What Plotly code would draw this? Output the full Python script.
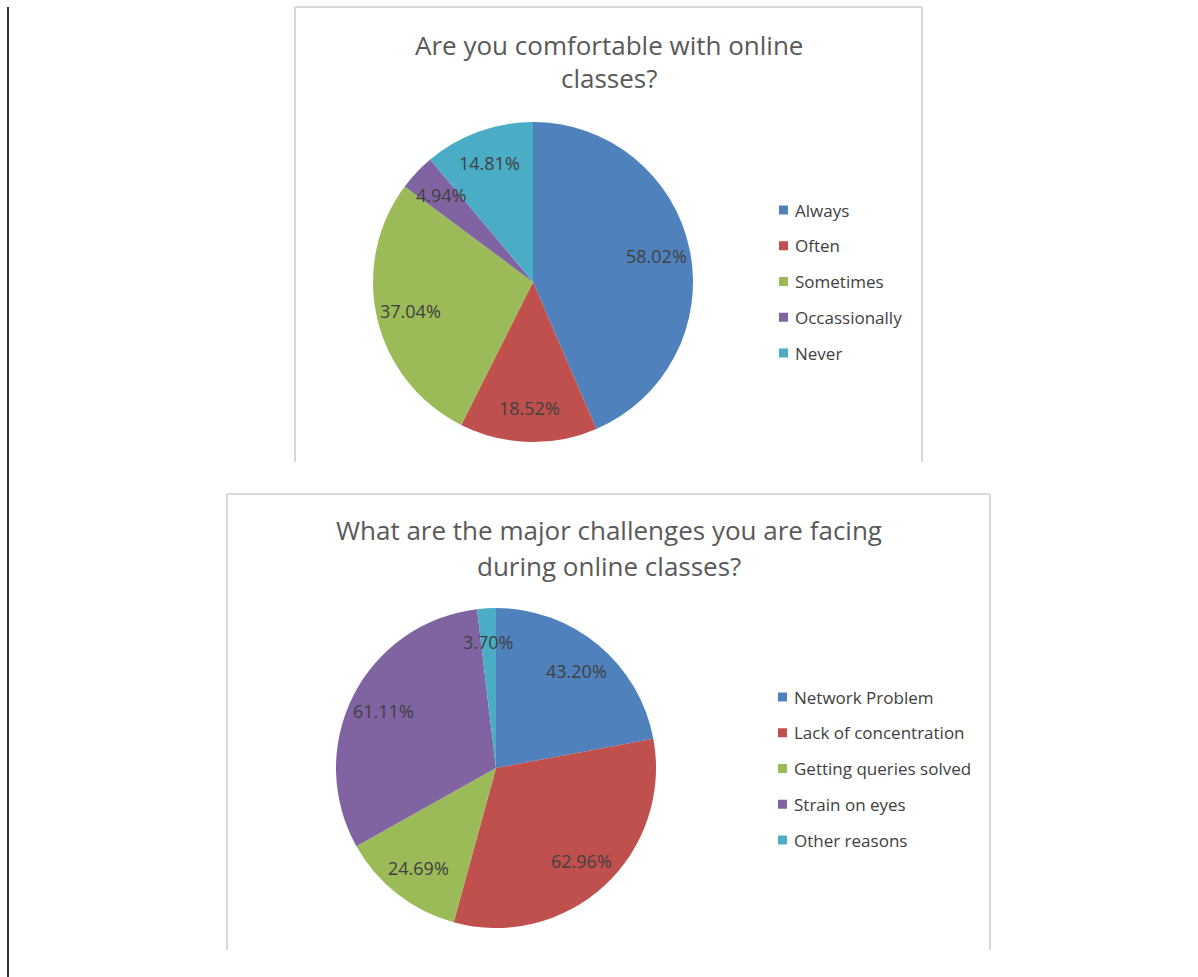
import math
import plotly.graph_objects as go

W, H = 1198, 977

# ---------------- data ----------------
comfort_title = "Are you comfortable with online<br>classes?"
comfort_labels = ["Always", "Often", "Sometimes", "Occassionally", "Never"]
comfort_values = [58.02, 18.52, 37.04, 4.94, 14.81]

challenge_title = "What are the major challenges you are facing<br>during online classes?"
challenge_labels = ["Network Problem", "Lack of concentration", "Getting queries solved",
                    "Strain on eyes", "Other reasons"]
challenge_values = [43.20, 62.96, 24.69, 61.11, 3.70]

colors = ["#4F81BD", "#C0504D", "#9BBB59", "#8064A2", "#4BACC6"]

FONT = "'Open Sans', Lato, sans-serif"
TEXT_COL = "#404040"
TITLE_COL = "#595959"

# ---------------- layout geometry (pixels) ----------------
charts = [
    dict(labels=comfort_labels, values=comfort_values, title=comfort_title,
         cx=533, cy=282, r=160, title_y=45, title_gap=33, leg_x=779, leg_y=210,
         box=(295, 7, 922, 462), name="comfort"),
    dict(labels=challenge_labels, values=challenge_values, title=challenge_title,
         cx=496, cy=768, r=160, title_y=530, title_gap=36, leg_x=778, leg_y=697,
         box=(227, 494, 990, 950), name="challenge"),
]
LEG_STEP = 35.75
LABEL_R = 0.79


def px(x):
    return x / W


def py(y):
    return 1 - y / H


fig = go.Figure()
shapes = []
annotations = []

for c in charts:
    cx, cy, r = c["cx"], c["cy"], c["r"]
    fig.add_trace(go.Pie(
        labels=c["labels"], values=c["values"], name=c["name"],
        marker=dict(colors=colors, line=dict(width=0)),
        sort=False, direction="clockwise", rotation=0,
        textinfo="none", hoverinfo="label+value",
        domain=dict(x=[px(cx - r), px(cx + r)], y=[py(cy + r), py(cy - r)]),
        showlegend=False,
    ))
    # data labels positioned from the cumulative share of each value
    total = sum(c["values"])
    cum = 0.0
    for v in c["values"]:
        mid = (cum + v / 2) / total * 2 * math.pi
        cum += v
        lx = cx + LABEL_R * r * math.sin(mid)
        ly = cy - LABEL_R * r * math.cos(mid)
        annotations.append(dict(
            x=px(lx), y=py(ly), xref="paper", yref="paper",
            text=f"{v:.2f}%", showarrow=False,
            font=dict(family=FONT, size=18, color=TEXT_COL),
            xanchor="center", yanchor="middle"))
    # title (one annotation per line)
    for k, line in enumerate(c["title"].split("<br>")):
        annotations.append(dict(
            x=px((c["box"][0] + c["box"][2]) / 2),
            y=py(c["title_y"] + k * c["title_gap"]),
            xref="paper", yref="paper", text=line, showarrow=False,
            font=dict(family=FONT, size=26, color=TITLE_COL),
            xanchor="center", yanchor="middle", align="center"))
    # legend
    for i, lab in enumerate(c["labels"]):
        yy = c["leg_y"] + i * LEG_STEP
        shapes.append(dict(type="rect", xref="paper", yref="paper",
                           x0=px(c["leg_x"]), x1=px(c["leg_x"] + 9),
                           y0=py(yy + 4.5), y1=py(yy - 4.5),
                           fillcolor=colors[i], line=dict(width=0)))
        annotations.append(dict(
            x=px(c["leg_x"] + 14), y=py(yy), xref="paper", yref="paper",
            text=lab, showarrow=False,
            font=dict(family=FONT, size=17, color=TEXT_COL),
            xanchor="left", yanchor="middle"))
    # chart frame (top, left, right)
    x0, y0, x1, y1 = c["box"]
    for (a, b, cc, d) in [(x0, y0, x1, y0), (x0, y0, x0, y1), (x1, y0, x1, y1)]:
        shapes.append(dict(type="line", xref="paper", yref="paper",
                           x0=px(a), y0=py(b), x1=px(cc), y1=py(d),
                           line=dict(color="#D9D9D9", width=2)))

# page edge line
shapes.append(dict(type="line", xref="paper", yref="paper",
                   x0=px(8), y0=py(7), x1=px(8), y1=py(977),
                   line=dict(color="#333333", width=2)))

fig.update_layout(
    width=W, height=H,
    margin=dict(l=0, r=0, t=0, b=0),
    paper_bgcolor="white", plot_bgcolor="white",
    shapes=shapes, annotations=annotations,
    font=dict(family=FONT, color=TEXT_COL),
)

fig.write_html("out.html", config=dict(displayModeBar=False))
